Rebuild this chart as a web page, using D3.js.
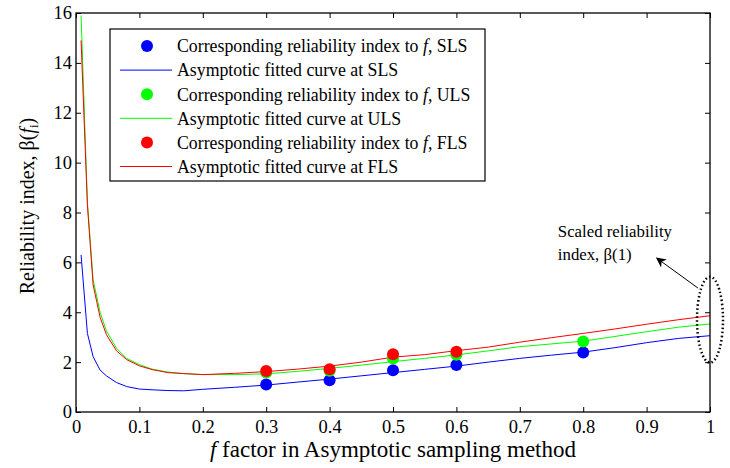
<!DOCTYPE html>
<html>
<head>
<meta charset="utf-8">
<script src="https://cdn.jsdelivr.net/npm/d3@7"></script>
<style>
  body { margin: 0; background: #fff; }
  svg { font-family: "Liberation Serif", "Times New Roman", serif; }
</style>
</head>
<body>
<svg class="chart" width="730" height="468"></svg>
<script>
// f values where the fitted curves were sampled
const fGrid = [0.008, 0.018, 0.027, 0.038, 0.048, 0.064, 0.08, 0.1, 0.12, 0.145, 0.17, 0.2, 0.25,
  0.3, 0.35, 0.4, 0.45, 0.5, 0.55, 0.6, 0.65, 0.7, 0.75, 0.8, 0.85, 0.9, 0.95, 1.0];
const curveSLS = [6.3, 3.15, 2.22, 1.68, 1.45, 1.18, 1.02, 0.92, 0.89, 0.86, 0.85, 0.91, 0.99,
  1.08, 1.2, 1.32, 1.45, 1.58, 1.71, 1.84, 2.0, 2.15, 2.28, 2.4, 2.58, 2.78, 2.95, 3.06];
const curveULS = [15.9, 8.4, 5.3, 4.0, 3.25, 2.55, 2.15, 1.9, 1.72, 1.6, 1.54, 1.5, 1.5,
  1.53, 1.63, 1.75, 1.88, 2.02, 2.15, 2.29, 2.45, 2.62, 2.73, 2.84, 3.03, 3.22, 3.4, 3.53];
const curveFLS = [14.9, 8.3, 5.1, 3.8, 3.1, 2.45, 2.1, 1.85, 1.7, 1.58, 1.54, 1.5, 1.55,
  1.62, 1.72, 1.84, 2.0, 2.2, 2.3, 2.46, 2.6, 2.8, 2.98, 3.15, 3.33, 3.52, 3.7, 3.86];

// points computed at selected f
const fPointsSLS = [0.3, 0.4, 0.5, 0.6, 0.8];
const betaSLS = [1.1, 1.27, 1.67, 1.88, 2.39];
const fPointsULS = [0.3, 0.4, 0.5, 0.6, 0.8];
const betaULS = [1.58, 1.65, 2.15, 2.3, 2.83];
const fPointsFLS = [0.3, 0.4, 0.5, 0.6];
const betaFLS = [1.64, 1.71, 2.32, 2.42];

const xTicks = [0, 0.1, 0.2, 0.3, 0.4, 0.5, 0.6, 0.7, 0.8, 0.9, 1];
const yTicks = [0, 2, 4, 6, 8, 10, 12, 14, 16];

const legendLabels = [
  "Corresponding reliability index to |f|, SLS",
  "Asymptotic fitted curve at SLS",
  "Corresponding reliability index to |f|, ULS",
  "Asymptotic fitted curve at ULS",
  "Corresponding reliability index to |f|, FLS",
  "Asymptotic fitted curve at FLS"
];

const drawChart = () => {
  const margin = {top: 13, right: 20, bottom: 56, left: 76};
  const width = 730 - margin.left - margin.right;
  const height = 468 - margin.top - margin.bottom;
  const fontFamily = '"Liberation Serif", "Times New Roman", serif';

  const svg = d3.select(".chart");
  const g = svg.append("g")
    .attr("transform", "translate(" + margin.left + "," + margin.top + ")");

  const xScale = d3.scaleLinear().domain([0, 1]).range([0, width]);
  const yScale = d3.scaleLinear().domain([0, 16]).range([height, 0]);

  // curves
  const line = d3.line()
    .x((d) => xScale(d[0]))
    .y((d) => yScale(d[1]));

  const series = [
    {color: "#0000ff", curve: curveSLS, fp: fPointsSLS, bp: betaSLS},
    {color: "#00ff00", curve: curveULS, fp: fPointsULS, bp: betaULS},
    {color: "#ff0000", curve: curveFLS, fp: fPointsFLS, bp: betaFLS}
  ];

  series.forEach((s) => {
    g.append("path")
      .datum(fGrid.map((f, i) => [f, s.curve[i]]))
      .attr("fill", "none")
      .attr("stroke", s.color)
      .attr("stroke-width", 1)
      .attr("d", line);
  });
  series.forEach((s) => {
    g.selectAll(null)
      .data(s.fp.map((f, i) => [f, s.bp[i]]))
      .enter()
      .append("circle")
      .attr("r", 6)
      .attr("cx", (d) => xScale(d[0]))
      .attr("cy", (d) => yScale(d[1]))
      .attr("fill", s.color);
  });

  // axes, MATLAB style box with inward ticks
  const fmtX = (d) => d === 0 || d === 1 ? String(d) : d3.format(".1f")(d);
  const tickLen = 5;
  const styleAxis = (ax) => {
    ax.attr("font-family", fontFamily).attr("font-size", 18.5);
    ax.select(".domain").remove();
    ax.selectAll("line").attr("stroke", "#000");
    ax.selectAll("text").attr("fill", "#000");
  };
  g.append("g")
    .attr("transform", "translate(0," + height + ")")
    .call(d3.axisBottom(xScale).tickValues(xTicks).tickFormat(fmtX).tickSizeInner(-tickLen).tickPadding(8))
    .call(styleAxis);
  g.append("g")
    .call(d3.axisTop(xScale).tickValues(xTicks).tickFormat("").tickSizeInner(-tickLen))
    .call(styleAxis);
  g.append("g")
    .call(d3.axisLeft(yScale).tickValues(yTicks).tickSizeInner(-tickLen).tickPadding(4))
    .call(styleAxis);
  g.append("g")
    .attr("transform", "translate(" + width + ",0)")
    .call(d3.axisRight(yScale).tickValues(yTicks).tickFormat("").tickSizeInner(-tickLen))
    .call(styleAxis);

  g.append("rect")
    .attr("width", width)
    .attr("height", height)
    .attr("fill", "none")
    .attr("stroke", "#000")
    .attr("stroke-width", 1.3);

  // annotation: dotted ellipse at f = 1 and arrow
  g.append("ellipse")
    .attr("cx", xScale(1))
    .attr("cy", yScale(3.7))
    .attr("rx", 13)
    .attr("ry", yScale(0) - yScale(1.72))
    .attr("fill", "none")
    .attr("stroke", "#000")
    .attr("stroke-width", 2.5)
    .attr("stroke-dasharray", "1.5,2.5");

  svg.append("defs").append("marker")
    .attr("id", "arrowhead")
    .attr("viewBox", "0 0 10 10")
    .attr("refX", 9).attr("refY", 5)
    .attr("markerWidth", 12).attr("markerHeight", 10)
    .attr("markerUnits", "userSpaceOnUse")
    .attr("orient", "auto")
    .append("path")
    .attr("d", "M0,0 L10,5 L0,10 L3,5 Z")
    .attr("fill", "#000");

  g.append("line")
    .attr("x1", xScale(0.981)).attr("y1", yScale(4.97))
    .attr("x2", xScale(0.916)).attr("y2", yScale(6.17))
    .attr("stroke", "#000")
    .attr("stroke-width", 1)
    .attr("marker-end", "url(#arrowhead)");

  const note = g.append("text")
    .attr("font-size", 16.8)
    .attr("fill", "#000");
  note.append("tspan")
    .attr("x", xScale(0.76)).attr("y", yScale(7.02))
    .text("Scaled reliability");
  note.append("tspan")
    .attr("x", xScale(0.76)).attr("y", yScale(6.09))
    .text("index, β(1)");

  // legend
  const legendX = 110 - margin.left, legendY = 29 - margin.top;
  const legend = g.append("g").attr("transform", "translate(" + legendX + "," + legendY + ")");
  legend.append("rect")
    .attr("width", 375).attr("height", 152)
    .attr("fill", "#fff")
    .attr("stroke", "#000")
    .attr("stroke-width", 1.2);
  const legendColors = ["#0000ff", "#0000ff", "#00ff00", "#00ff00", "#ff0000", "#ff0000"];
  legendLabels.forEach((lbl, i) => {
    const cy = 17 + i * 24.1;
    if (i % 2 === 0) {
      legend.append("circle")
        .attr("cx", 37).attr("cy", cy).attr("r", 6)
        .attr("fill", legendColors[i]);
    } else {
      legend.append("line")
        .attr("x1", 10).attr("x2", 62)
        .attr("y1", cy).attr("y2", cy)
        .attr("stroke", legendColors[i]);
    }
    const t = legend.append("text")
      .attr("x", 67).attr("y", cy + 6.3)
      .attr("font-size", 17.8)
      .attr("fill", "#000");
    lbl.split("|").forEach((part, k) => {
      t.append("tspan")
        .attr("font-style", k === 1 ? "italic" : null)
        .text(part);
    });
  });

  // axis titles
  const xTitle = svg.append("text")
    .attr("x", margin.left + width / 2)
    .attr("y", 457)
    .attr("text-anchor", "middle")
    .attr("font-size", 23)
    .attr("fill", "#000");
  xTitle.append("tspan").attr("font-style", "italic").text("f");
  xTitle.append("tspan").text(" factor in Asymptotic sampling method");

  const yTitle = svg.append("text")
    .attr("transform", "translate(34,206) rotate(-90)")
    .attr("text-anchor", "middle")
    .attr("font-size", 20)
    .attr("fill", "#000");
  yTitle.append("tspan").text("Reliability index, β(");
  yTitle.append("tspan").attr("font-style", "italic").text("f");
  yTitle.append("tspan").attr("font-size", 13).attr("dy", 4).text("i");
  yTitle.append("tspan").attr("dy", -4).text(")");
};

document.addEventListener('DOMContentLoaded', drawChart, false);
</script>
</body>
</html>
